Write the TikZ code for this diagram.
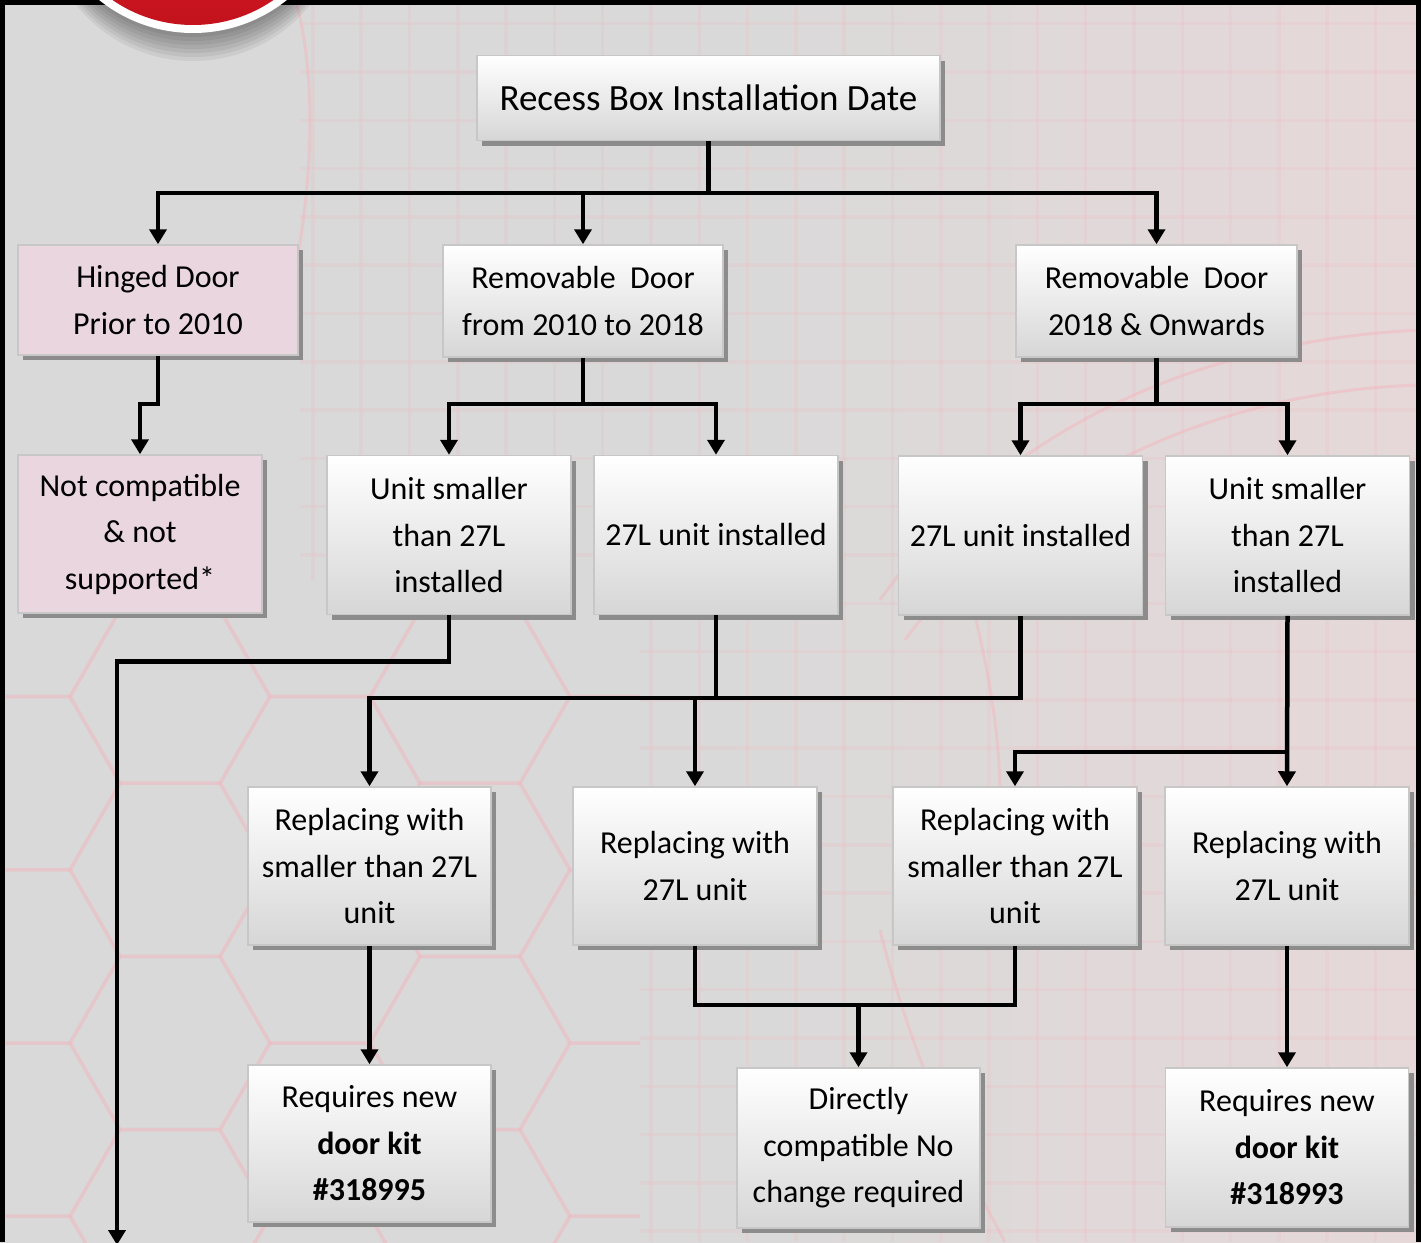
\documentclass[tikz,border=0pt]{standalone}
\usepackage{fontspec}
\setmainfont{Carlito}
\usetikzlibrary{arrows.meta,shadows,calc}
\definecolor{bgGray}{HTML}{D9D9D9}
\definecolor{bgPink}{HTML}{E6D8D9}
\definecolor{boxPink}{HTML}{EAD6DF}
\definecolor{patPink}{HTML}{F4B4BC}
\definecolor{redTop}{HTML}{EC2230}
\definecolor{redBot}{HTML}{C4131D}
\begin{document}
\begin{tikzpicture}[x=1pt,y=-1pt,
  font=\fontsize{32}{46.5}\selectfont,
  box/.style={draw=black!22, line width=1.5pt, top color=white, bottom color=black!16,
    drop shadow={shadow xshift=5pt, shadow yshift=-5pt, fill=black!45, opacity=1},
    align=center, inner sep=0pt, minimum width=244pt, minimum height=159pt},
  pinkbox/.style={box, top color=boxPink, bottom color=boxPink},
  conn/.style={line width=4.5pt, draw=black},
  arr/.style={conn, -{Triangle[width=17pt,length=15pt]}},
  bgline/.style={draw=patPink, line width=3.5pt, opacity=0.18},
  bgarc/.style={draw=patPink, line width=3pt, opacity=0.45},
]
\useasboundingbox (0,0) rectangle (1421,1242);
\clip (0,0) rectangle (1421,1242);
% background
\shade[left color=bgGray, right color=bgPink, middle color=bgGray] (0,0) rectangle (1421,1242);
% grid pattern
\begin{scope}
  \clip (300,5) -- (1421,5) -- (1421,1242) -- (640,1242) -- (640,580) -- (300,580) -- cycle;
  \foreach \i in {-17,...,6} { \draw[bgline] (1134+\i*48.3,0) -- (1134+\i*48.3,1242); }
  \foreach \j in {-1,...,25} { \draw[bgline] (0,72+\j*48.3) -- (1421,72+\j*48.3); }
\end{scope}
% hexagon pattern
\begin{scope}
  \clip (5,560) rectangle (640,1242);
  \foreach \c in {0,...,5} {
    \foreach \r in {0,...,5} {
      \pgfmathsetmacro{\hx}{20+\c*150}
      \pgfmathsetmacro{\hy}{610+\r*173.2+mod(\c,2)*86.6}
      \draw[bgline, opacity=0.28] (\hx+100,\hy) -- (\hx+50,\hy+86.6) -- (\hx-50,\hy+86.6) -- (\hx-100,\hy) -- (\hx-50,\hy-86.6) -- (\hx+50,\hy-86.6) -- cycle;
    }
  }
\end{scope}
% arcs
\draw[bgarc] (297,5) .. controls (318,90) and (312,190) .. (290,300);
\draw[bgarc] (880,600) .. controls (1000,430) and (1200,340) .. (1421,330);
\draw[bgarc] (905,640) .. controls (1030,470) and (1230,390) .. (1421,385);
\draw[bgarc] (880,930) .. controls (910,1050) and (955,1150) .. (1005,1242);
\draw[bgarc] (960,560) .. controls (1000,700) and (1010,800) .. (990,900);
% frame
\fill[black] (0,0) rectangle (1421,5);
\fill[black] (0,0) rectangle (5,1242);
\fill[black] (1416,0) rectangle (1421,1242);
% logo circle (partly visible)
\foreach \k in {1,...,7} { \fill[black, opacity=0.06] (193,-117+\k*4) circle (150); }
\fill[white] (193,-117) circle (150);
\shade[top color=redTop, bottom color=redBot] (193,-117) circle (142);

% nodes
\node[box, font=\fontsize{37}{46.5}\selectfont, minimum width=463pt, minimum height=85pt] (top) at (708.5,98) {Recess Box Installation Date};
\node[pinkbox, minimum width=280pt, minimum height=110pt] (hinged) at (158,300) {Hinged Door\\Prior to 2010};
\node[box, minimum width=280pt, minimum height=112pt] (rem1) at (583,301) {Removable\ \ Door\\from 2010 to 2018};
\node[box, minimum width=281pt, minimum height=112pt] (rem2) at (1156.5,301) {Removable\ \ Door\\2018 \& Onwards};

\node[pinkbox, minimum height=158pt] (notc) at (140,534) {Not compatible\\\& not\\supported*};
\node[box] (us1) at (449,535) {Unit smaller\\than 27L\\installed};
\node[box] (l27a) at (716,535) {27L unit installed};
\node[box] (l27b) at (1020.5,535.5) {27L unit installed};
\node[box] (us2) at (1287.5,535.5) {Unit smaller\\than 27L\\installed};

\node[box, minimum width=243pt, minimum height=158pt] (rs1) at (369.5,866) {Replacing with\\smaller than 27L\\unit};
\node[box, minimum height=158pt] (r27a) at (695,866) {Replacing with\\27L unit};
\node[box, minimum height=158pt] (rs2) at (1015,866) {Replacing with\\smaller than 27L\\unit};
\node[box, minimum height=158pt] (r27b) at (1287,866) {Replacing with\\27L unit};

\node[box, minimum width=243pt, minimum height=157pt] (req1) at (369.5,1143.5) {Requires new\\\textbf{door kit}\\\textbf{\#318995}};
\node[box, minimum width=243pt, minimum height=160pt] (dc) at (858.5,1148) {Directly\\compatible No\\change required};
\node[box, minimum width=243pt, minimum height=159pt] (req2) at (1287,1147.5) {Requires new\\\textbf{door kit}\\\textbf{\#318993}};

% connectors
\coordinate (j0) at (708.5,193);
\draw[conn] (top.south) -- (j0);
\draw[arr] (j0) -| (hinged.north);
\draw[arr] (j0) -| (rem1.north);
\draw[arr] (j0) -| (rem2.north);

\draw[arr] (hinged.south) -- ++(0,48) -| (notc.north);

\coordinate (j1) at (583,404);
\draw[conn] (rem1.south) -- (j1);
\draw[arr] (j1) -| (us1.north);
\draw[arr] (j1) -| (l27a.north);

\coordinate (j2) at (1156.5,404);
\draw[conn] (rem2.south) -- (j2);
\draw[arr] (j2) -| (l27b.north);
\draw[arr] (j2) -| (us2.north);

\coordinate (endL) at (117,1245);
\draw[arr] (us1.south) -- ++(0,46) -| (endL);

\coordinate (m2) at (716,698);
\draw[conn] (l27a.south) -- (m2);
\draw[arr] (l27b.south) |- (m2) -| (rs1.north);
\draw[arr] (r27a.north |- m2) -- (r27a.north);

\coordinate (m3) at (1287,752);
\draw[arr] (us2.south) -- (r27b.north);
\draw[arr] (m3) -| (rs2.north);

\draw[arr] (rs1.south) -- (req1.north);
\draw[arr] (r27b.south) -- (req2.north);

\coordinate (m4) at (858.5,1005);
\draw[conn] (r27a.south) |- (m4) -| (rs2.south);
\draw[arr] (m4) -- (dc.north);
\end{tikzpicture}
\end{document}
